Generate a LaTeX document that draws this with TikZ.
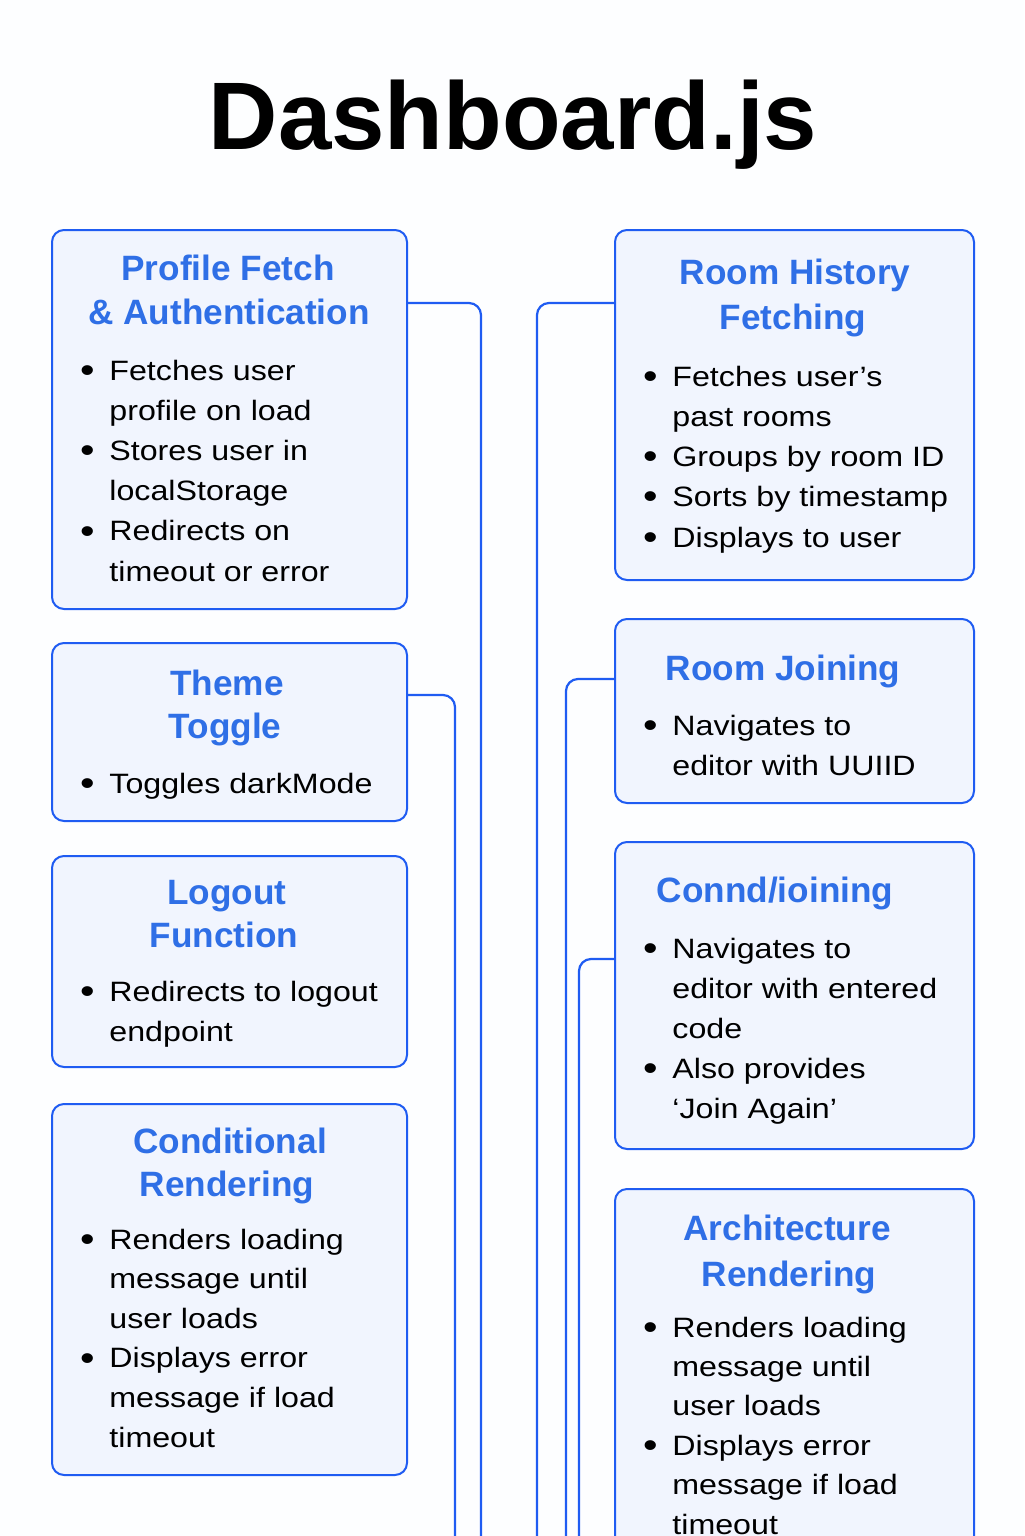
\documentclass[tikz,border=0pt]{standalone}
\usepackage{fontspec}
\setmainfont{Liberation Sans}
\newfontfamily\bodyfont[FakeStretch=1.15]{Liberation Sans}
\definecolor{edgeblue}{HTML}{1F5CF2}
\definecolor{headblue}{HTML}{2F6FE6}
\definecolor{boxfill}{HTML}{F1F5FE}
\definecolor{pagebg}{HTML}{FDFEFF}
\newcommand\bulmark{\llap{\raisebox{-1.1pt}{\fontsize{18}{20}\selectfont\textbullet}\hspace{7.4pt}}}
\newcommand\panel[5]{\node[panelbox, minimum width={(#4-#2)*0.5pt}, minimum height={(#5-#3)*0.5pt}] (#1) at (#2,#3) {};}
\newcommand\itemlines[5]{\foreach \t [count=\i] in {#5}{\node[bodytxt] (#1-\i) at (#2,{#3+(\i-1)*#4}) {\t};}}
\begin{document}
\begin{tikzpicture}[x=0.5pt,y=-0.5pt,
  panelbox/.style={draw=edgeblue, line width=1pt, fill=boxfill, rounded corners=6pt, inner sep=0pt, anchor=north west},
  link/.style={draw=edgeblue, line width=1.1pt, rounded corners=6pt},
  headtxt/.style={anchor=base, inner sep=0pt, text=headblue, font=\bfseries\fontsize{17.6}{22}\selectfont},
  bodytxt/.style={anchor=base west, inner sep=0pt, text=black, font=\bodyfont\fontsize{14}{20}\selectfont},
  titletxt/.style={anchor=base, inner sep=0pt, text=black, font=\bfseries\fontsize{48}{56}\selectfont}]
\useasboundingbox (0,0) rectangle (1024,1536);
\begin{scope}
\clip (0,0) rectangle (1024,1536);
\fill[pagebg] (0,0) rectangle (1024,1536);

\node[titletxt] (title) at (513,149) {Dashboard.js};

% panels
\panel{prof}{51}{229}{406}{608}
\panel{theme}{51}{642}{406}{820}
\panel{logout}{51}{855}{406}{1066}
\panel{cond}{51}{1103}{406}{1474}
\panel{hist}{614}{229}{973}{579}
\panel{join}{614}{618}{973}{802}
\panel{connd}{614}{841}{973}{1148}
\panel{arch}{614}{1188}{973}{1620}

% connectors
\coordinate (e1) at (481,1560);
\coordinate (e2) at (537,1560);
\coordinate (e3) at (455,1560);
\coordinate (e4) at (566,1560);
\coordinate (e5) at (579,1560);
\draw[link] (prof.east |- 0,303) -- (481,303) -- (e1);
\draw[link] (hist.west |- 0,303) -- (537,303) -- (e2);
\draw[link] (theme.east |- 0,695) -- (455,695) -- (e3);
\draw[link] (join.west |- 0,679) -- (566,679) -- (e4);
\draw[link] (connd.west |- 0,959) -- (579,959) -- (e5);

% left column texts
\node[headtxt] (prof-h1) at (228,280) {Profile Fetch};
\node[headtxt] (prof-h2) at (229,324) {\& Authentication};
\itemlines{prof}{109}{380}{40.2}{\bulmark Fetches user, profile on load, \bulmark Stores user in, localStorage, \bulmark Redirects on, timeout or error}

\node[headtxt] (theme-h1) at (227,695) {Theme};
\node[headtxt] (theme-h2) at (225,738) {Toggle};
\itemlines{theme}{109}{793}{40}{\bulmark Toggles darkMode}

\node[headtxt] (logout-h1) at (227,904) {Logout};
\node[headtxt] (logout-h2) at (224,947) {Function};
\itemlines{logout}{109}{1001}{40}{\bulmark Redirects to logout, endpoint}

\node[headtxt] (cond-h1) at (230,1153) {Conditional};
\node[headtxt] (cond-h2) at (227,1196) {Rendering};
\itemlines{cond}{109}{1249}{39.6}{\bulmark Renders loading, message until, user loads, \bulmark Displays error, message if load, timeout}

% right column texts
\node[headtxt] (hist-h1) at (795,284) {Room History};
\node[headtxt] (hist-h2) at (793,329) {Fetching};
\itemlines{hist}{672}{386}{40.25}{\bulmark Fetches user’s, past rooms, \bulmark Groups by room ID, \bulmark Sorts by timestamp, \bulmark Displays to user}

\node[headtxt] (join-h1) at (783,680) {Room Joining};
\itemlines{join}{672}{735}{40}{\bulmark Navigates to, editor with UUIID}

\node[headtxt] (connd-h1) at (775,902) {Connd/ioining};
\itemlines{connd}{672}{958}{40}{\bulmark Navigates to, editor with entered, code, \bulmark Also provides, ‘Join Again’}

\node[headtxt] (arch-h1) at (787,1240) {Architecture};
\node[headtxt] (arch-h2) at (789,1286) {Rendering};
\itemlines{arch}{672}{1337}{39.4}{\bulmark Renders loading, message until, user loads, \bulmark Displays error, message if load, timeout}
\end{scope}
\end{tikzpicture}
\end{document}
